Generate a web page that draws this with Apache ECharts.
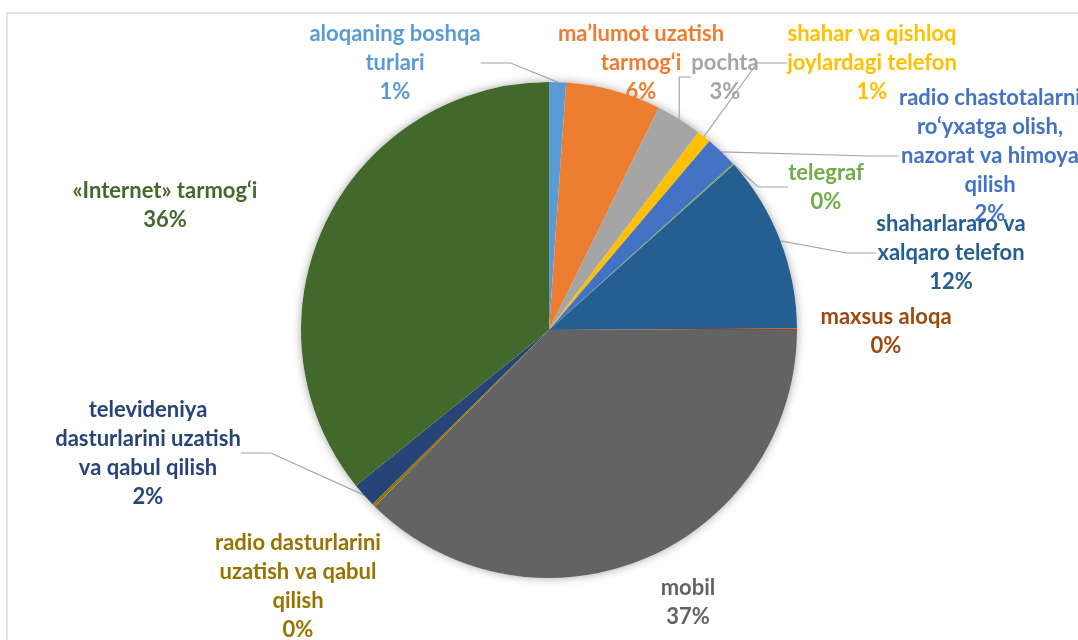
<!DOCTYPE html>
<html>
<head>
<meta charset="utf-8">
<script src="https://cdn.jsdelivr.net/npm/echarts@6/dist/echarts.min.js"></script>
<style>
  html, body { margin: 0; padding: 0; background: #fff; }
  #main { width: 1078px; height: 640px; }
</style>
</head>
<body>
<div id="main"></div>
<script>
// kategoriyalar (soat yo'nalishida, tepadan boshlab)
var names = [
  'aloqaning boshqa\nturlari',
  'ma’lumot uzatish\ntarmog‘i',
  'pochta',
  'shahar va qishloq\njoylardagi telefon',
  'radio chastotalarni\nro‘yxatga olish,\nnazorat va himoya\nqilish',
  'telegraf',
  'shaharlararo va\nxalqaro telefon',
  'maxsus aloqa',
  'mobil',
  'radio dasturlarini\nuzatish va qabul\nqilish',
  'televideniya\ndasturlarini uzatish\nva qabul qilish',
  '«Internet» tarmog‘i'
];
// ulushlar, %
var values = [1.1, 6.2, 3.0, 0.9, 2.1, 0.1, 11.5, 0.1, 37.4, 0.2, 1.6, 35.8];
var colors = ['#5B9BD5', '#ED7D31', '#A5A5A5', '#FFC000', '#4472C4', '#70AD47',
              '#255E91', '#9E480E', '#636363', '#997300', '#264478', '#43682B'];
// yorliq markazlari
var labelPos = [[395, 63], [641, 63], [725, 77], [872, 63], [990, 156], [826, 187],
                [951, 253], [886, 331], [688, 602], [298, 586], [148, 453], [165, 205]];
var showLine = [true, false, true, true, true, true, true, false, false, false, true, false];

var total = values.reduce(function (a, b) { return a + b; }, 0);

var myChart = echarts.init(document.getElementById('main'));

var pieData = [];
for (var i = 0; i < names.length; i++) {
  pieData.push({
    name: names[i],
    value: values[i],
    itemStyle: { color: colors[i] },
    label: { color: colors[i] },
    labelLine: { show: showLine[i] }
  });
}

var option = {
  animation: false,
  graphic: [{
    type: 'polyline',
    shape: { points: [[7, 640], [7, 13], [1078, 13]] },
    style: { stroke: '#D9D9D9', lineWidth: 1.5, fill: null },
    silent: true
  }],
  series: [
    {
      // soya uchun fon doirasi
      type: 'pie',
      center: [549, 330],
      radius: 248,
      silent: true,
      z: 1,
      label: { show: false },
      labelLine: { show: false },
      itemStyle: {
        color: '#fff',
        shadowBlur: 10,
        shadowColor: 'rgba(0,0,0,0.35)'
      },
      data: [1]
    },
    {
      type: 'pie',
      center: [549, 330],
      radius: 248,
      startAngle: 90,
      clockwise: true,
      avoidLabelOverlap: false,
      z: 2,
      label: {
        show: true,
        position: 'outside',
        fontFamily: 'Lato',
        fontWeight: 'bold',
        fontSize: 22,
        lineHeight: 29,
        align: 'center',
        formatter: function (p) {
          return p.name + '\n' + Math.round(p.value / total * 100) + '%';
        }
      },
      labelLine: {
        lineStyle: { color: '#A6A6A6', width: 1.2 }
      },
      labelLayout: function (params) {
        var pos = labelPos[params.dataIndex];
        return {
          x: pos[0],
          y: pos[1],
          align: 'center',
          verticalAlign: 'middle',
          hideOverlap: false,
          moveOverlap: null
        };
      },
      data: pieData
    }
  ]
};

myChart.setOption(option);
</script>
</body>
</html>
